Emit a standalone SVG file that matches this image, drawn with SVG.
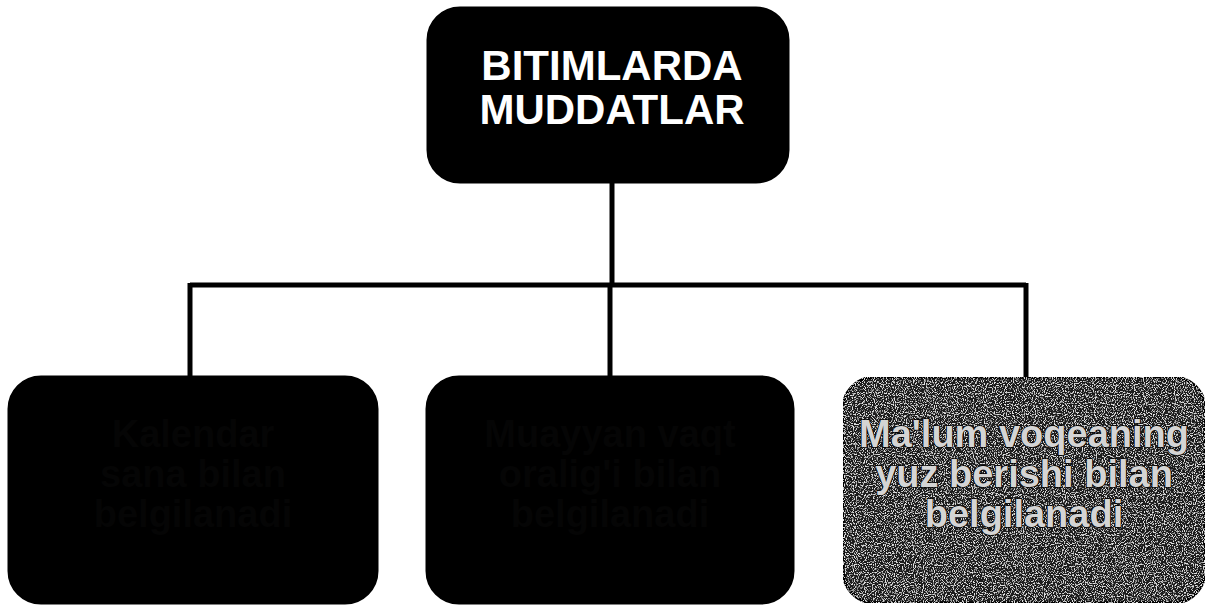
<svg xmlns="http://www.w3.org/2000/svg" width="1208" height="607" viewBox="0 0 1208 607">
  <defs>
    <filter id="grain2" x="0" y="0" width="100%" height="100%">
      <feTurbulence type="fractalNoise" baseFrequency="0.9" numOctaves="1" seed="11" result="n"/>
      <feColorMatrix in="n" type="matrix" values="0 0 0 0 0.75  0 0 0 0 0.75  0 0 0 0 0.75  0 0 0 -7 3.4" result="specks"/>
      <feComposite in="specks" in2="SourceGraphic" operator="in" result="clip"/>
      <feMerge><feMergeNode in="SourceGraphic"/><feMergeNode in="clip"/></feMerge>
    </filter>
  </defs>
  <style>
    .box { stroke: #000; stroke-width: 3; }
    .dark { fill: #000; }
    .mid { fill: #1a1a1a; }
    .link { fill: none; stroke: #000; stroke-width: 5; }
    .title { font-family: "Liberation Sans", Arial, sans-serif; font-weight: bold; font-size: 42px; fill: #fff; text-anchor: middle; }
    .label { font-family: "Liberation Sans", Arial, sans-serif; font-weight: bold; font-size: 38px; text-anchor: middle; }
    .hidden { fill: #050505; }
    .light { fill: #d4d4d4; stroke: #000; stroke-width: 1.5; paint-order: stroke; }
  </style>
  <rect width="1208" height="607" fill="#fff"/>
  <g id="connectors">
    <path class="link" d="M612 182 V285"/>
    <path class="link" d="M190 285 H1026"/>
    <path class="link" d="M190 283 V378"/>
    <path class="link" d="M610 283 V378"/>
    <path class="link" d="M1026 283 V378"/>
  </g>
  <g id="node-root">
    <rect class="box dark" x="428" y="8" width="360" height="174" rx="32"/>
    <text class="title" x="612" y="80">BITIMLARDA</text>
    <text class="title" x="612" y="124">MUDDATLAR</text>
  </g>
  <g id="node-1">
    <rect class="box dark" x="9" y="377" width="368" height="226" rx="32"/>
    <text class="label hidden" x="193" y="447">Kalendar</text>
    <text class="label hidden" x="193" y="487">sana bilan</text>
    <text class="label hidden" x="193" y="527">belgilanadi</text>
  </g>
  <g id="node-2">
    <rect class="box dark" x="427" y="377" width="366" height="226" rx="32"/>
    <text class="label hidden" x="610" y="447">Muayyan vaqt</text>
    <text class="label hidden" x="610" y="487">oralig'i bilan</text>
    <text class="label hidden" x="610" y="527">belgilanadi</text>
  </g>
  <g id="node-3">
    <rect class="box mid" x="843" y="377" width="362" height="226" rx="32" filter="url(#grain2)"/>
    <text class="label light" x="1024" y="447">Ma'lum voqeaning</text>
    <text class="label light" x="1024" y="487">yuz berishi bilan</text>
    <text class="label light" x="1024" y="527">belgilanadi</text>
  </g>
</svg>
